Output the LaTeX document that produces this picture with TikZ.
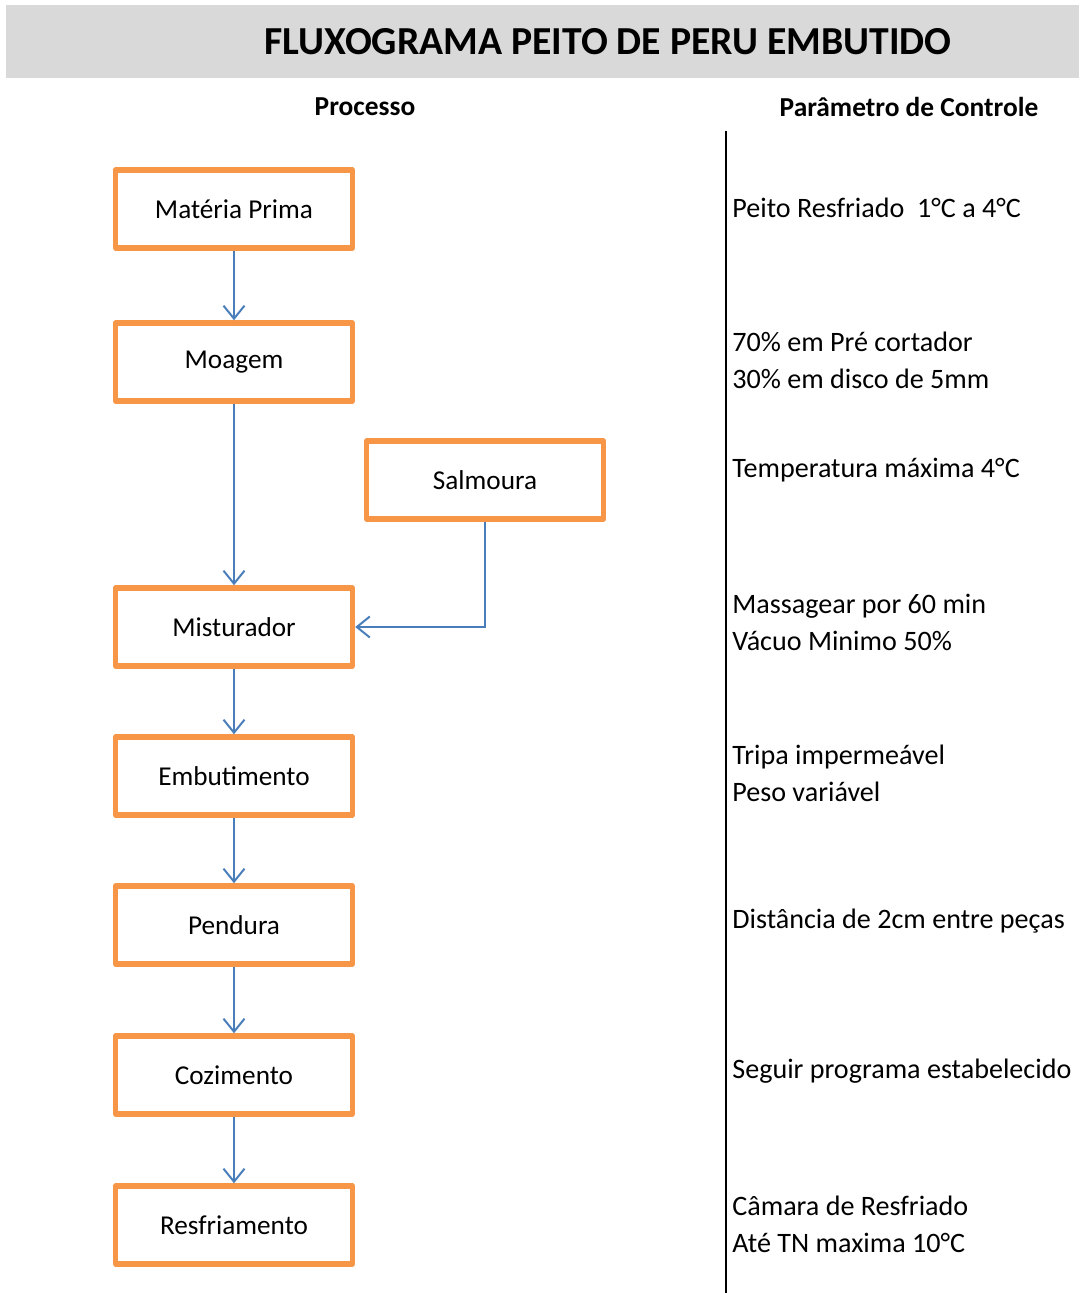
\documentclass[tikz,border=0pt]{standalone}
\usepackage{fontspec}
\setmainfont{Carlito}
\usetikzlibrary{arrows.meta}
\definecolor{caixa}{HTML}{F79646}
\definecolor{seta}{HTML}{4A7EBB}
\definecolor{faixa}{HTML}{D9D9D9}
\tikzset{
  etapa/.style={draw=caixa, line width=0.11cm, line join=round, fill=white,
    minimum width=4.74cm, minimum height=1.56cm, font=\fontsize{15.5}{18}\selectfont},
  param/.style={anchor=west, align=left, inner sep=0pt, font=\fontsize{16}{21}\selectfont},
  fluxo/.style={draw=seta, line width=0.04cm, -{Straight Barb[length=0.26cm, width=0.42cm, line width=0.04cm]}},
  cabec/.style={font=\bfseries\fontsize{15.6}{18}\selectfont}
}

\begin{document}
\begin{tikzpicture}[x=0.02cm, y=-0.02cm]
		%%%%% START %%%%%
		\useasboundingbox (0, 0) rectangle (1079, 1293);
		
		\fill[faixa] (6, 5) rectangle (1079, 78);
		\node[font=\bfseries\fontsize{22.6}{26}\selectfont] (titulo) at (608, 42) {FLUXOGRAMA PEITO DE PERU EMBUTIDO};
		
		\node[cabec] (proc) at (365, 107) {Processo};
		\node[cabec] (ctrl) at (909, 107) {Parâmetro de Controle};
		
		\coordinate (divA) at (726, 131);
		\coordinate (divB) at (726, 1293);
		\draw[line width=0.04cm] (divA) -- (divB);
		
		% etapas do processo
		\node[etapa] (mp) at (234, 209) {Matéria Prima};
		\node[etapa] (moag) at (234, 362) {Moagem};
		\node[etapa] (salm) at (485, 480) {Salmoura};
		\node[etapa] (mist) at (234, 627) {Misturador};
		\node[etapa] (emb) at (234, 776) {Embutimento};
		\node[etapa] (pend) at (234, 925) {Pendura};
		\node[etapa] (coz) at (234, 1075) {Cozimento};
		\node[etapa] (resf) at (234, 1225) {Resfriamento};
		
		\draw[fluxo] (mp) -- (moag);
		\draw[fluxo] (moag) -- (mist);
		\draw[fluxo] (salm.south) |- (mist.east);
		\draw[fluxo] (mist) -- (emb);
		\draw[fluxo] (emb) -- (pend);
		\draw[fluxo] (pend) -- (coz);
		\draw[fluxo] (coz) -- (resf);
		
		% parametros de controle
		\node[param] (p1) at (732, 208) {Peito Resfriado\ \ 1°C a 4°C};
		\node[param] (p2) at (732, 360) {70\% em Pré cortador\\30\% em disco de 5mm};
		\node[param] (p3) at (732, 470) {Temperatura máxima 4°C};
		\node[param] (p4) at (732, 622) {Massagear por 60 min\\Vácuo Minimo 50\%};
		\node[param] (p5) at (732, 773) {Tripa impermeável\\Peso variável};
		\node[param] (p6) at (732, 921) {Distância de 2cm entre peças};
		\node[param] (p7) at (732, 1071) {Seguir programa estabelecido};
		\node[param] (p8) at (732, 1224) {Câmara de Resfriado\\Até TN maxima 10°C};
		
		%%%%% END %%%%%
	\end{tikzpicture}
\end{document}
